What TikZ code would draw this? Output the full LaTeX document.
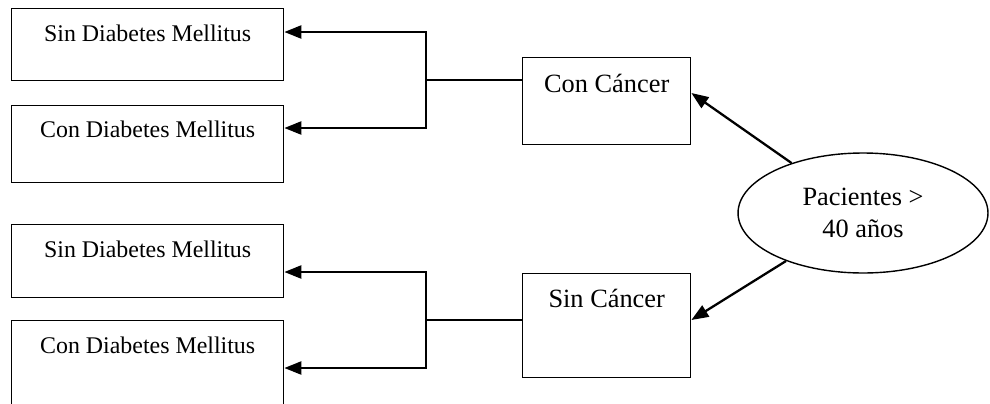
\documentclass[tikz,border=0pt]{standalone}
\usepackage{fontspec}
\setmainfont{Liberation Serif}
\usetikzlibrary{arrows.meta,shapes.geometric}
\begin{document}
\begin{tikzpicture}[x=0.02cm,y=-0.02cm,
  caja/.style={draw,line width=0.8pt,inner sep=0pt,anchor=north west,
    minimum width=5.44cm,font=\fontsize{13.6}{16}\selectfont},
  grupo/.style={draw,line width=0.8pt,inner sep=0pt,anchor=north west,
    minimum width=3.36cm,font=\fontsize{15}{18}\selectfont},
  flecha/.style={line width=1.3pt,-{Triangle[length=0.34cm,width=0.26cm]}}]
  \useasboundingbox (0,0) rectangle (990,403);
  \clip (0,0) rectangle (990,403);
  \node[caja,text height=0.66cm,text depth=0.78cm] (sdm1) at (11,8) {Sin Diabetes Mellitus};
  \node[caja,text height=0.64cm,text depth=0.90cm] (cdm1) at (11,105) {Con Diabetes Mellitus};
  \node[caja,text height=0.66cm,text depth=0.80cm] (sdm2) at (11,224) {Sin Diabetes Mellitus};
  \node[caja,text height=0.66cm,text depth=1.34cm] (cdm2) at (11,320) {Con Diabetes Mellitus};
  \node[grupo,text height=0.70cm,text depth=1.04cm] (cc) at (522,57) {Con Cáncer};
  \node[grupo,text height=0.68cm,text depth=1.40cm] (sc) at (522,273) {Sin Cáncer};
  \node[draw,ellipse,line width=0.8pt,inner sep=0pt,minimum width=5cm,minimum height=2.4cm,
    align=center,font=\fontsize{15}{18}\selectfont] (pac) at (863,213) {Pacientes >\\40 años};
  \coordinate (f1) at (426,80);
  \coordinate (f2) at (426,320);
  \draw[line width=0.75pt] (cc.west |- f1) -- (f1);
  \draw[flecha] (f1) |- (sdm1.east |- 0,32);
  \draw[flecha] (f1) |- (cdm1.east |- 0,128);
  \draw[line width=0.75pt] (sc.west |- f2) -- (f2);
  \draw[flecha] (f2) |- (sdm2.east |- 0,272);
  \draw[flecha] (f2) |- (cdm2.east |- 0,368);
  \draw[flecha] (pac) -- (cc.east |- 0,93);
  \draw[flecha] (pac) -- (sc.east |- 0,320);
\end{tikzpicture}
\end{document}
